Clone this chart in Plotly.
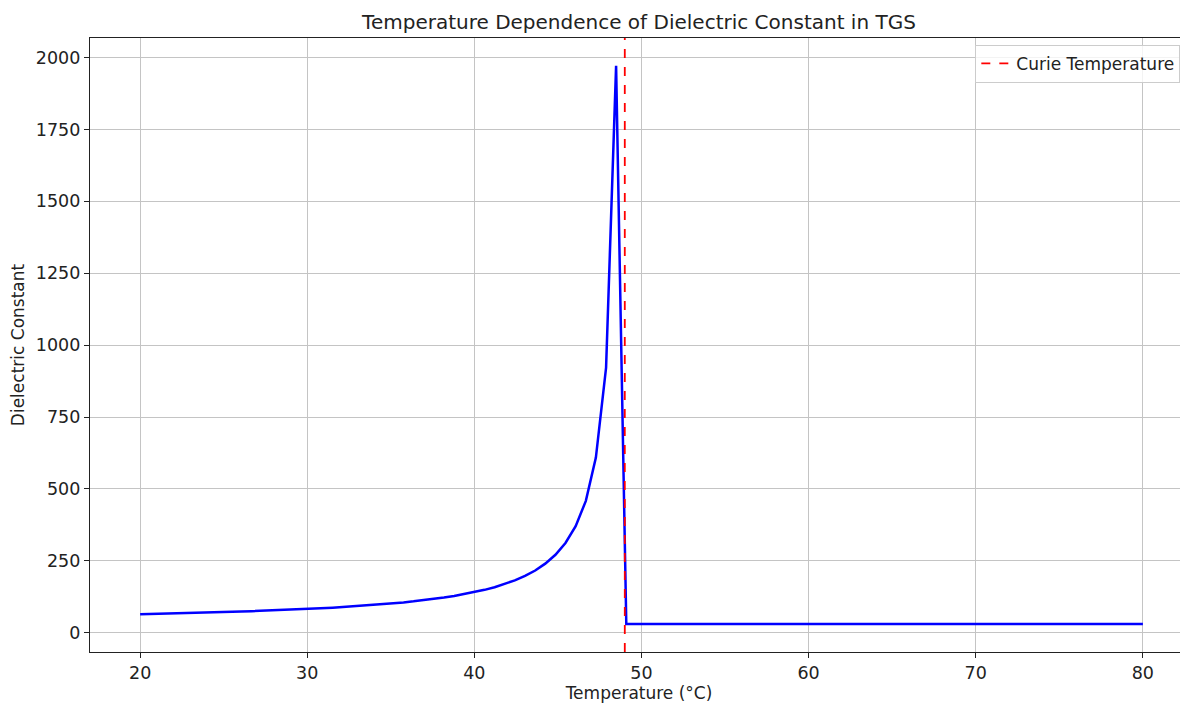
import plotly.graph_objects as go

# Data
temperature = [20.00, 20.61, 21.21, 21.82, 22.42, 23.03, 23.64, 24.24, 24.85, 25.45,
               26.06, 26.67, 27.27, 27.88, 28.48, 29.09, 29.70, 30.30, 30.91, 31.52,
               32.12, 32.73, 33.33, 33.94, 34.55, 35.15, 35.76, 36.36, 36.97, 37.58,
               38.18, 38.79, 39.39, 40.00, 40.61, 41.21, 41.82, 42.42, 43.03, 43.64,
               44.24, 44.85, 45.45, 46.06, 46.67, 47.27, 47.88, 48.48, 49.09, 80.00]
dielectric = [64.5, 65.2, 66.0, 66.8, 67.6, 68.5, 69.4, 70.4, 71.4, 72.5,
              73.6, 74.8, 76.0, 77.3, 78.7, 80.2, 81.8, 83.5, 85.3, 87.2,
              89.2, 91.5, 93.8, 96.4, 99.2, 102.2, 105.5, 109.1, 113.1, 117.5,
              122.4, 127.9, 134.1, 141.1, 149.1, 158.4, 169.2, 182.1, 197.5, 216.4,
              240.2, 270.9, 312.1, 370.2, 458.6, 609.0, 921.9, 1971.2, 30.0, 30.0]
curie_temp = 49
x_ticks = [20, 30, 40, 50, 60, 70, 80]
y_ticks = [0, 250, 500, 750, 1000, 1250, 1500, 1750, 2000]

FONT = "DejaVu Sans, Verdana, sans-serif"
TXT = "#222222"
W, H = 1180, 695

fig = go.Figure()
fig.add_trace(go.Scatter(
    x=temperature, y=dielectric, mode="lines",
    line=dict(color="#0000ff", width=2.5), showlegend=False, hoverinfo="skip"))
# legend entry for the Curie line
fig.add_trace(go.Scatter(
    x=[None], y=[None], mode="lines", name="Curie Temperature",
    line=dict(color="#ff0000", width=1.8, dash="dash")))
fig.add_shape(type="line", x0=curie_temp, x1=curie_temp, xref="x",
              y0=0, y1=1, yref="paper",
              line=dict(color="#ff0000", width=1.8, dash="dash"), layer="above")

fig.update_layout(
    width=W, height=H,
    margin=dict(l=82, r=0, t=30, b=51, autoexpand=False),
    paper_bgcolor="white", plot_bgcolor="white",
    font=dict(family=FONT, size=17, color=TXT),
    title=dict(text="Temperature Dependence of Dielectric Constant in TGS",
               x=0.5, xref="paper", xanchor="center",
               y=1 - 14 / H, yanchor="middle",
               font=dict(family=FONT, size=20, color=TXT)),
    legend=dict(x=0.993, xanchor="right", y=0.989, yanchor="top",
                bgcolor="rgba(255,255,255,0.8)", bordercolor="#cccccc",
                borderwidth=1, font=dict(family=FONT, size=17, color=TXT)),
    showlegend=True,
)
fig.update_xaxes(
    range=[17.0, 82.7], tickvals=x_ticks, ticktext=[str(v) for v in x_ticks],
    showgrid=True, gridcolor="#c4c4c4", gridwidth=1, zeroline=False,
    showline=True, linecolor=TXT, linewidth=1.3, mirror=True,
    ticks="outside", ticklen=5, tickcolor=TXT, tickwidth=1.3,
    tickfont=dict(family=FONT, size=17.5, color=TXT),
    title=dict(text="Temperature (°C)", standoff=8,
               font=dict(family=FONT, size=17, color=TXT)),
)
fig.update_yaxes(
    range=[-67, 2068], tickvals=y_ticks, ticktext=[str(v) for v in y_ticks],
    showgrid=True, gridcolor="#c4c4c4", gridwidth=1, zeroline=False,
    showline=True, linecolor=TXT, linewidth=1.3, mirror=False,
    ticks="outside", ticklen=5, tickcolor=TXT, tickwidth=1.3,
    tickfont=dict(family=FONT, size=17.5, color=TXT),
    title=dict(text="Dielectric Constant", standoff=7,
               font=dict(family=FONT, size=17, color=TXT)),
)

fig.write_html("out.html")
